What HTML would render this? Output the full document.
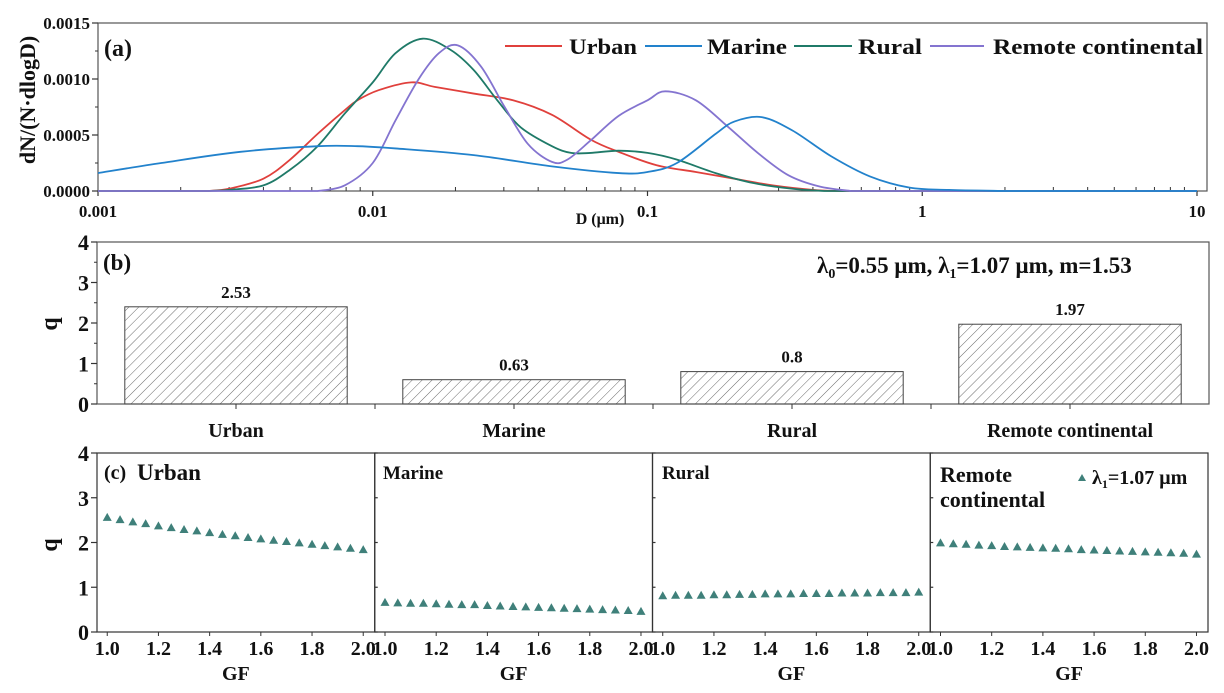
<!DOCTYPE html>
<html><head><meta charset="utf-8"><style>
html,body{margin:0;padding:0;background:#fff;}
svg{display:block;font-family:"Liberation Serif",serif;font-weight:bold;}
</style></head>
<body>
<svg id="chart" width="1224" height="693" viewBox="0 0 1224 693" xmlns="http://www.w3.org/2000/svg">
<defs>
<pattern id="hatch" patternUnits="userSpaceOnUse" width="7" height="7" patternTransform="rotate(45)">
<line x1="0" y1="0" x2="0" y2="7" stroke="#444" stroke-width="0.8"/>
</pattern>
</defs>
</svg>
<script>
// ---------- Panel (a) data ----------
const urbanD = [0.0025,0.003,0.004,0.005,0.0063,0.0079,0.0088,0.0105,0.0138,0.0168,0.0233,0.0324,0.0449,0.062,0.0784,0.108,0.15,0.207,0.286,0.4,0.5];
const urbanY = [0,0.00002,0.00011,0.00028,0.00051,0.00072,0.00081,0.0009,0.00097,0.00093,0.00087,0.00081,0.00068,0.00046,0.00035,0.00023,0.00017,0.00011,0.00005,0.00001,0];
const marineD = [0.001,0.0017,0.0033,0.0063,0.0088,0.0121,0.0233,0.0449,0.0784,0.1,0.128,0.177,0.207,0.26,0.337,0.466,0.645,0.9,1.25,2.0];
const marineY = [0.00016,0.00025,0.00035,0.0004,0.0004,0.00038,0.00032,0.00022,0.00016,0.00017,0.00025,0.00051,0.00062,0.00066,0.00054,0.00031,0.00013,0.00003,0.00001,0];
const ruralD = [0.0025,0.003,0.004,0.005,0.0063,0.0079,0.01,0.0121,0.0152,0.0192,0.0233,0.0284,0.0345,0.0449,0.0527,0.062,0.0784,0.1,0.128,0.177,0.244,0.337,0.44];
const ruralY = [0,0.00001,0.00005,0.00019,0.0004,0.00069,0.00097,0.00123,0.00136,0.00126,0.00108,0.00081,0.00057,0.0004,0.00034,0.00034,0.00036,0.00034,0.00028,0.00016,0.00007,0.00002,0];
const remoteD = [0.0063,0.0079,0.01,0.0121,0.0147,0.0174,0.0204,0.0248,0.0302,0.0367,0.0449,0.0511,0.062,0.0784,0.1,0.116,0.15,0.197,0.252,0.326,0.423,0.55];
const remoteY = [0,0.00005,0.00025,0.00063,0.001,0.00123,0.0013,0.00111,0.00075,0.00042,0.00026,0.00028,0.00045,0.00067,0.00081,0.00089,0.00081,0.00057,0.00034,0.00014,0.00004,0];
const aXTicks = [0.001,0.01,0.1,1,10];
const aXTickLabels = ["0.001","0.01","0.1","1","10"];
const aYTicks = [0,0.0005,0.001,0.0015];
const aYTickLabels = ["0.0000","0.0005","0.0010","0.0015"];

// ---------- Panel (b) data ----------
const bCategories = ["Urban","Marine","Rural","Remote continental"];
const bValues = [2.4,0.6,0.8,1.97];
const bLabels = ["2.53","0.63","0.8","1.97"];
const bYTicks = [0,1,2,3,4];

// ---------- Panel (c) data ----------
const cGF = [1.0,1.05,1.1,1.15,1.2,1.25,1.3,1.35,1.4,1.45,1.5,1.55,1.6,1.65,1.7,1.75,1.8,1.85,1.9,1.95,2.0];
const cUrban = [2.55,2.5,2.45,2.41,2.36,2.32,2.28,2.25,2.21,2.17,2.14,2.1,2.07,2.04,2.01,1.98,1.95,1.92,1.89,1.86,1.83];
const cMarine = [0.65,0.64,0.63,0.63,0.62,0.61,0.6,0.6,0.58,0.57,0.56,0.55,0.54,0.53,0.52,0.51,0.5,0.49,0.48,0.47,0.45];
const cRural = [0.8,0.81,0.81,0.81,0.82,0.82,0.83,0.83,0.84,0.84,0.84,0.85,0.85,0.85,0.86,0.86,0.86,0.87,0.87,0.87,0.88];
const cRemote = [1.98,1.96,1.95,1.93,1.92,1.9,1.89,1.88,1.87,1.86,1.85,1.83,1.82,1.81,1.8,1.79,1.78,1.77,1.76,1.75,1.73];
const cTitles = ["Urban","Marine","Rural","Remote continental"];
const cXTicks = [1.0,1.2,1.4,1.6,1.8,2.0];
const cYTicks = [0,1,2,3,4];

const svg = document.getElementById('chart');
const NS = "http://www.w3.org/2000/svg";
function mk(tag, attrs, parent){
  const e = document.createElementNS(NS, tag);
  for (const k in attrs) e.setAttribute(k, attrs[k]);
  (parent||svg).appendChild(e);
  return e;
}
function txt(x,y,s,size,anchor,parent){
  const t = mk('text',{x:x,y:y,'font-size':size,'text-anchor':anchor||'middle',fill:'#111'},parent);
  t.textContent = s;
  return t;
}

// ===== Panel (a) =====
const aL=98, aR=1207, aT=23, aB=191, aX0=98, aX10=1197;
function ax(d){ return aX0 + (Math.log10(d)+3)*(aX10-aX0)/4; }
function ay(v){ return aB - v/0.0015*(aB-aT); }
const ga = mk('g',{});


const fa = mk('rect',{x:aL,y:aT,width:aR-aL,height:aB-aT,fill:'none',stroke:'#555','stroke-width':1.2},ga);


aXTicks.forEach((d,i)=>{
  mk('line',{x1:ax(d),y1:aB,x2:ax(d),y2:aB+5,stroke:'#333','stroke-width':1.2},ga);
  const t = txt(ax(d), 217, aXTickLabels[i], 17, 'middle', ga);
  
  
  if (i<aXTicks.length-1){
    for (let m=2;m<10;m++){
      const xx = ax(d*m);
      mk('line',{x1:xx,y1:aB,x2:xx,y2:aB-4,stroke:'#333','stroke-width':1},ga);
    }
  }
});
aYTicks.forEach((v,i)=>{
  mk('line',{x1:aL-6,y1:ay(v),x2:aL,y2:ay(v),stroke:'#333','stroke-width':1.2},ga);
  if (i<aYTicks.length-1) mk('line',{x1:aL-3,y1:ay(v+0.00025),x2:aL,y2:ay(v+0.00025),stroke:'#333','stroke-width':1},ga);
  const t = txt(aL-8, ay(v)+6, aYTickLabels[i], 17, 'end', ga);
  
  
});
const axl = txt(600, 224, "D (μm)", 16, 'middle', ga);


const ayl = mk('text',{x:0,y:0,'font-size':22,'text-anchor':'middle',fill:'#111',transform:'translate(35,100) rotate(-90)'},ga);
ayl.textContent = "dN/(N·dlogD)";


const lbA = txt(104, 56, "(a)", 24, 'start', ga);



function smoothPath(pts){
  let d = `M${pts[0][0]},${pts[0][1]}`;
  for (let i=0;i<pts.length-1;i++){
    const p0=pts[Math.max(0,i-1)], p1=pts[i], p2=pts[i+1], p3=pts[Math.min(pts.length-1,i+2)];
    const c1x=p1[0]+(p2[0]-p0[0])/6, c1y=p1[1]+(p2[1]-p0[1])/6;
    const c2x=p2[0]-(p3[0]-p1[0])/6, c2y=p2[1]-(p3[1]-p1[1])/6;
    d += ` C${c1x},${Math.min(aB,c1y)} ${c2x},${Math.min(aB,c2y)} ${p2[0]},${p2[1]}`;
  }
  return d;
}
function drawCurve(D, Y, color, name, extendTo){
  const pts = D.map((d,i)=>[ax(d), ay(Y[i])]);
  let d = smoothPath(pts);
  if (extendTo) d += ` L${ax(extendTo)},${ay(0)}`;
  if (D[0] > 0.001) d = `M${ax(0.001)},${ay(0)} L` + d.slice(1);
  const p = mk('path',{d:d,fill:'none',stroke:color,'stroke-width':1.8},ga);
  
  
}
drawCurve(urbanD, urbanY, '#e0403c', 'urban-curve', 10);
drawCurve(ruralD, ruralY, '#1f7a68', 'rural-curve', 10);
drawCurve(remoteD, remoteY, '#8474d0', 'remote-continental-curve', 10);
drawCurve(marineD, marineY, '#2282cc', 'marine-curve', 10);

// legend
const legItems = [
  ['#e0403c','Urban',505,562,569,68],
  ['#2282cc','Marine',645,702,707,80],
  ['#1f7a68','Rural',794,852,858,64],
  ['#8474d0','Remote continental',930,984,993,210]
];
legItems.forEach(it=>{
  const g = mk('g',{},ga);
  
  
  mk('line',{x1:it[2],y1:46,x2:it[3],y2:46,stroke:it[0],'stroke-width':2},g);
  const t = mk('text',{x:it[4],y:54,'font-size':22,fill:'#111',textLength:it[5],lengthAdjust:'spacingAndGlyphs'},g);
  t.textContent = it[1];
});

// ===== Panel (b) =====
const bL=97, bR=1209, bT=242, bB=404;
const bw = (bR-bL)/bCategories.length;
function by(v){ return bB - v/4*(bB-bT); }
const gb = mk('g',{});


const fb = mk('rect',{x:bL,y:bT,width:bR-bL,height:bB-bT,fill:'none',stroke:'#555','stroke-width':1.2},gb);


bYTicks.forEach(v=>{
  mk('line',{x1:bL-6,y1:by(v),x2:bL,y2:by(v),stroke:'#333','stroke-width':1.2},gb);
  if (v<4) mk('line',{x1:bL-3,y1:by(v+0.5),x2:bL,y2:by(v+0.5),stroke:'#333','stroke-width':1},gb);
  const t = txt(bL-8, by(v)+8, String(v), 22, 'end', gb);
  
  
});
const qb = mk('text',{x:0,y:0,'font-size':24,'text-anchor':'middle',fill:'#111',transform:'translate(57,324) rotate(-90)'},gb);
qb.textContent='q';


bCategories.forEach((c,i)=>{
  const cx = bL + bw*(i+0.5);
  const r = mk('rect',{x:cx-bw*0.4,y:by(bValues[i]),width:bw*0.8,height:bB-by(bValues[i]),fill:'url(#hatch)',stroke:'#444','stroke-width':1},gb);
  
  
  mk('line',{x1:cx,y1:bB,x2:cx,y2:bB+5,stroke:'#333','stroke-width':1},gb);
  if (i>0) mk('line',{x1:bL+bw*i,y1:bB,x2:bL+bw*i,y2:bB+5,stroke:'#333','stroke-width':1},gb);
  const v = txt(cx, by(bValues[i])-9, bLabels[i], 17, 'middle', gb);
  
  
  const l = txt(cx, 437, c, 20, 'middle', gb);
  
  
});
const lbB = txt(103, 270, "(b)", 23, 'start', gb);


const ann = mk('text',{x:817,y:273,'font-size':23,fill:'#111'},gb);
ann.innerHTML = 'λ<tspan font-size="14" dy="5">0</tspan><tspan dy="-5">=0.55  μm, λ</tspan><tspan font-size="14" dy="5">1</tspan><tspan dy="-5">=1.07 μm,  m=1.53</tspan>';



// ===== Panel (c) =====
const cL=97, cR=1208, cT=453, cB=632;
const cw = (cR-cL)/4;
const cXmin=0.96, cXmax=2.045;
function cy(v){ return cB - v/4*(cB-cT); }
function cx(p,g){ return cL + p*cw + (g-cXmin)/(cXmax-cXmin)*cw; }
const gc = mk('g',{});


const cSeries = [cUrban,cMarine,cRural,cRemote];
cYTicks.forEach(v=>{
  const t = txt(cL-8, cy(v)+8, String(v), 22, 'end', gc);
  
  
});
const qc = mk('text',{x:0,y:0,'font-size':24,'text-anchor':'middle',fill:'#111',transform:'translate(57,545) rotate(-90)'},gc);
qc.textContent='q';


for (let p=0;p<4;p++){
  const g = mk('g',{},gc);
  
  
  mk('rect',{x:cL+p*cw,y:cT,width:cw,height:cB-cT,fill:'none',stroke:'#333','stroke-width':1.2},g);
  cYTicks.forEach(v=>{
    mk('line',{x1:cL+p*cw-(p==0?6:0),y1:cy(v),x2:cL+p*cw+(p==0?0:3),y2:cy(v),stroke:'#333','stroke-width':1.2},g);
  });
  cXTicks.forEach(t=>{
    const xx = cx(p,t);
    mk('line',{x1:xx,y1:cB,x2:xx,y2:cB+4,stroke:'#333','stroke-width':1},g);
    const tl = txt(xx, 655, t.toFixed(1), 20, 'middle', g);
    
    
  });
  const gl = txt(cL+p*cw+cw/2, 680, "GF", 20, 'middle', g);
  
  
  cGF.forEach((gv,i)=>{
    const x = cx(p,gv), y = cy(cSeries[p][i]);
    const tri = mk('path',{d:`M${x},${y-5} L${x+4.5},${y+3} L${x-4.5},${y+3} Z`,fill:'#3f807a'},g);
    
    
  });
}
const t1 = txt(104, 479, "(c)", 20, 'start', gc);


const t2 = txt(137, 480, "Urban", 23, 'start', gc);


const t3 = txt(383, 479, "Marine", 19, 'start', gc);


const t4 = txt(662, 479, "Rural", 19, 'start', gc);


const t5 = txt(940, 482, "Remote", 22, 'start', gc);


const t6 = txt(940, 507, "continental", 22, 'start', gc);


const lg = mk('g',{},gc);


mk('path',{d:'M1082,474 L1086,481 L1078,481 Z',fill:'#3f807a'},lg);
const lt = mk('text',{x:1092,y:484,'font-size':20,fill:'#111'},lg);
lt.innerHTML = 'λ<tspan font-size="12" dy="4">1</tspan><tspan dy="-4">=1.07 μm</tspan>';
</script>
</body></html>
